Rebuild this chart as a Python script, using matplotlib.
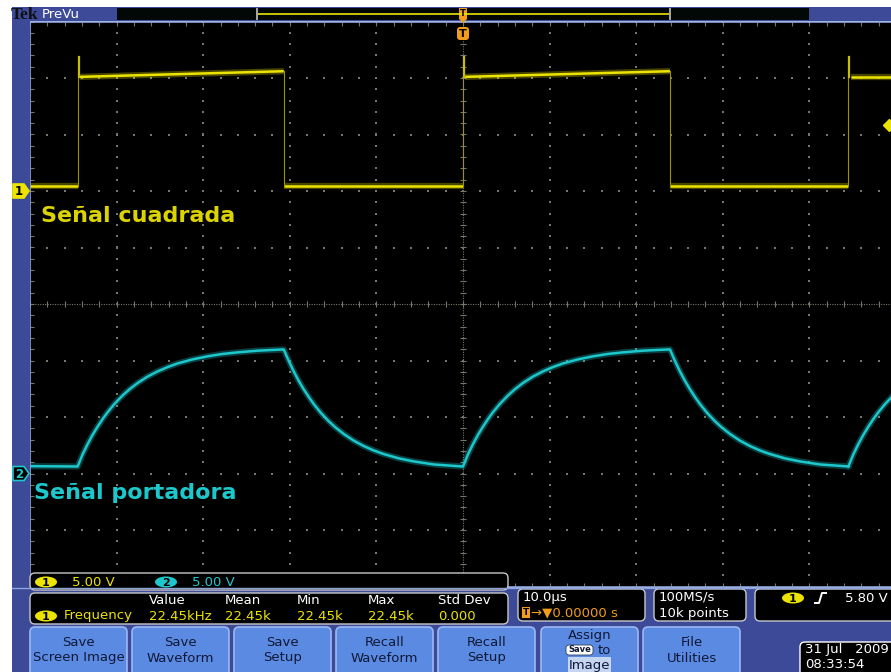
import numpy as np
import matplotlib.pyplot as plt
from matplotlib.patches import Rectangle, FancyBboxPatch, Ellipse, Polygon

W, H = 891, 672

# screen geometry (pixels)
x_center, y_center = 463.0, 304.0
px_per_div_x, px_per_div_y = 86.6, 56.5

# scope settings
us_per_div = 10.0
volts_per_div = 5.0
ch1_pos = 2.0      # divisions above centre
ch2_pos = -3.0
trig_level_v = 5.80

# channel 1: square wave, edges in us and levels in V
sq_rise_us = [-44.5, 0.0, 44.5]
sq_fall_us = [-20.7, 23.9]
sq_low_v = 0.45
sq_high_v = [10.1, 10.6]     # just after the rise / just before the fall
sq_peak_v = 11.9

# channel 2: carrier, one charge and one discharge read point by point
charge_us = [0.0, 0.58, 1.15, 1.73, 2.31, 2.89, 3.46, 4.27, 5.2, 6.0, 6.93,
             8.08, 9.24, 10.39, 11.55, 13.28, 15.01, 16.74, 18.48, 20.79, 23.79]
charge_v = [0.62, 1.7, 2.6, 3.42, 4.15, 4.82, 5.42, 6.17, 6.91, 7.46, 8.01,
            8.58, 9.04, 9.42, 9.74, 10.1, 10.37, 10.58, 10.72, 10.87, 10.98]
discharge_us = [0.0, 0.58, 1.15, 1.73, 2.31, 2.89, 3.46, 4.27, 5.2, 6.0, 6.93,
                8.08, 9.24, 10.39, 11.55, 13.28, 15.01, 17.32, 20.67]
discharge_v = [10.98, 9.96, 9.04, 8.2, 7.45, 6.77, 6.15, 5.38, 4.62, 4.06, 3.5,
               2.91, 2.43, 2.04, 1.72, 1.34, 1.07, 0.8, 0.62]
idle_v = 0.65

# readouts
meas_cols = ["Value", "Mean", "Min", "Max", "Std Dev"]
meas_vals = ["22.45kHz", "22.45k", "22.45k", "22.45k", "0.000"]
buttons = [("Save", "Screen Image"), ("Save", "Waveform"), ("Save", "Setup"),
           ("Recall", "Waveform"), ("Recall", "Setup"), None, ("File", "Utilities")]

BLUE = "#3c4a98"
EDGE = "#8ea4dc"
GRID = "#77776a"
YEL = "#ece400"
CYAN = "#1cc8cc"
ORANGE = "#f29c1c"


def div1(v):
    return ch1_pos + np.asarray(v, dtype=float) / volts_per_div


def div2(v):
    return ch2_pos + np.asarray(v, dtype=float) / volts_per_div


def ypx(d):
    return y_center - d * px_per_div_y


fig = plt.figure(figsize=(W / 100, H / 100), dpi=100, facecolor="white")

# ---- graticule ----
left_px, right_px = x_center - 5 * px_per_div_x, x_center + 5 * px_per_div_x
top_px, bot_px = y_center - 5 * px_per_div_y, y_center + 5 * px_per_div_y
ax = fig.add_axes([left_px / W, 1 - bot_px / H, (right_px - left_px) / W, (bot_px - top_px) / H],
                  zorder=1)
ax.set_facecolor("black")
ax.set_xlim(-5 * us_per_div, 5 * us_per_div)
ax.set_ylim(-5, 5)

ax.set_xticks(np.arange(-50, 50.1, 2))
ax.set_yticks(np.arange(-5, 5.01, 0.2))
ax.tick_params(direction="in", length=3, width=0.8, colors=GRID,
               top=True, bottom=True, left=True, right=True,
               labelbottom=False, labelleft=False)
for side in ["top", "left", "bottom"]:
    ax.spines[side].set_color(EDGE)
    ax.spines[side].set_linewidth(1.2)
ax.spines["right"].set_visible(False)

minor_x = np.arange(-50, 50.1, 2)
minor_y = np.arange(-5, 5.01, 0.2)
for k in range(-4, 5):
    if k == 0:
        continue
    ax.scatter(np.full(minor_y.size, k * us_per_div), minor_y, s=1.1, c=GRID, lw=0, marker="s")
    ax.scatter(minor_x, np.full(minor_x.size, k), s=1.1, c=GRID, lw=0, marker="s")
ax.plot([-50, 50], [0, 0], ls=(0, (1, 1.2)), lw=0.8, color=GRID)
ax.plot([0, 0], [-5, 5], ls=(0, (1, 1.2)), lw=0.8, color=GRID)
ax.plot(minor_x, np.zeros(minor_x.size), ls="none", marker="|", ms=5, mew=0.8, color=GRID)
ax.plot(np.zeros(minor_y.size), minor_y, ls="none", marker="_", ms=5, mew=0.8, color=GRID)

# ---- channel 1 trace ----
lows = [(-50.0, sq_rise_us[0])] + list(zip(sq_fall_us, sq_rise_us[1:]))
for a, b in lows:
    y = div1([sq_low_v, sq_low_v])
    ax.plot([a, b], y, color=YEL, lw=4.5, alpha=0.3, solid_capstyle="butt")
    ax.plot([a, b], y, color=YEL, lw=1.8, solid_capstyle="butt")
for k, r in enumerate(sq_rise_us):
    if k < len(sq_fall_us):
        end, end_v = sq_fall_us[k], sq_high_v[1]
    else:
        end, end_v = 50.0, sq_high_v[0]
    t = [r + 0.25, end]
    y = div1([sq_high_v[0], end_v])
    ax.plot(t, y, color=YEL, lw=4.5, alpha=0.3, solid_capstyle="butt")
    ax.plot(t, y, color=YEL, lw=1.8, solid_capstyle="butt")
    # edge and the short overshoot right after it
    ax.plot([r, r], div1([sq_low_v, sq_high_v[0]]), color="#9a9400", lw=0.8)
    ax.plot([r + 0.12, r + 0.12], div1([sq_high_v[0], sq_peak_v]), color="#c8c000", lw=1.6)
for k, f in enumerate(sq_fall_us):
    ax.plot([f, f], div1([sq_low_v, sq_high_v[1]]), color="#9a9400", lw=0.8)

# ---- channel 2 trace ----
t2, v2 = [-50.0], [idle_v]
for k, r in enumerate(sq_rise_us):
    stop = sq_fall_us[k] - r if k < len(sq_fall_us) else 99.0
    for t, v in zip(charge_us, charge_v):
        if t < stop:
            t2.append(r + t)
            v2.append(v)
    if k < len(sq_fall_us):
        t2 += [sq_fall_us[k] + t for t in discharge_us]
        v2 += discharge_v
ax.plot(t2, div2(v2), color=CYAN, lw=4.5, alpha=0.3)
ax.plot(t2, div2(v2), color=CYAN, lw=1.8)

# trigger level marker on the right edge
ax.plot([(W - x_center - 2) / px_per_div_x * us_per_div], [div1(trig_level_v)],
        marker="D", ms=6, color=YEL, clip_on=False)

# ---- instrument chrome (pixel coordinates) ----
ui = fig.add_axes([0, 0, 1, 1], zorder=3)
ui.set_xlim(0, W)
ui.set_ylim(H, 0)
ui.axis("off")
ui.patch.set_visible(False)


def rbox(x, y, w, h, fc, ec, r=5, lw=1.0):
    ui.add_patch(FancyBboxPatch((x, y), w, h, boxstyle=f"round,pad=0,rounding_size={r}",
                                fc=fc, ec=ec, lw=lw))


def badge(x, y, label, fc, tc="black"):
    ui.add_patch(Ellipse((x, y), 22, 11, fc=fc, ec="none"))
    ui.text(x, y + 0.5, label, color=tc, fontsize=8, fontweight="bold", ha="center", va="center")


# frame
ui.add_patch(Rectangle((12, 7), 18, H - 7, fc=BLUE, ec="none"))
ui.add_patch(Rectangle((12, 7), W - 12, 14, fc=BLUE, ec="none"))
ui.add_patch(Rectangle((12, bot_px + 1), W - 12, H - bot_px, fc=BLUE, ec="none"))
ui.plot([12, W], [bot_px + 1, bot_px + 1], color=EDGE, lw=1)

# top bar
ui.text(11, 15, "Tek", family="Liberation Serif", fontweight="bold", fontsize=12.5,
        color="#101010", va="center", ha="left")
ui.text(42, 14, "PreVu", color="white", fontsize=9.5, va="center", ha="left")
ui.add_patch(Rectangle((117, 8), 692, 12, fc="#020805", ec="none"))
ui.plot([257, 670], [14, 14], color=YEL, lw=1.2)
for xb in (257, 670):
    ui.plot([xb, xb], [9, 19], color="#a8a8a8", lw=1.4)

# trigger position markers
ui.add_patch(Polygon([(459, 8), (467, 8), (467, 19), (463, 23), (459, 19)], fc=ORANGE, ec="none"))
ui.text(463, 14, "T", color="black", fontsize=6, fontweight="bold", ha="center", va="center")
rbox(457, 27, 12, 13, ORANGE, "none", r=3)
ui.text(463, 34, "T", color="black", fontsize=8, fontweight="bold", ha="center", va="center")

# channel markers
for pos, lab, fc, ec, tc in [(ch1_pos, "1", YEL, YEL, "black"), (ch2_pos, "2", "black", CYAN, CYAN)]:
    yc = ypx(pos)
    ui.add_patch(Polygon([(13, yc - 7), (24, yc - 7), (29, yc), (24, yc + 7), (13, yc + 7)],
                         fc=fc, ec=ec, lw=1.2))
    ui.text(19, yc + 0.5, lab, color=tc, fontsize=8.5, fontweight="bold", ha="center", va="center")

# trace labels
ui.text(41, 216, "Señal cuadrada", color="#dcd400", fontsize=16, fontweight="bold",
        ha="left", va="center")
ui.text(34, 493, "Señal portadora", color=CYAN, fontsize=16, fontweight="bold",
        ha="left", va="center")

# vertical scale readout
rbox(30, 573, 478, 17, "black", "#c8c8c8")
badge(46, 582, "1", YEL)
ui.text(72, 582, f"{volts_per_div:.2f} V", color=YEL, fontsize=9.5, va="center")
badge(166, 582, "2", CYAN)
ui.text(192, 582, f"{volts_per_div:.2f} V", color=CYAN, fontsize=9.5, va="center")

# measurement readout
rbox(30, 593, 478, 31, "black", "#c8c8c8")
col_x = [149, 225, 297, 368, 438]
for cx, head, val in zip(col_x, meas_cols, meas_vals):
    ui.text(cx, 601, head, color="white", fontsize=9.5, va="center")
    ui.text(cx, 616, val, color=YEL, fontsize=9.5, va="center")
badge(46, 616, "1", YEL)
ui.text(64, 616, "Frequency", color=YEL, fontsize=9.5, va="center")

# timebase readout
rbox(518, 589, 127, 32, "black", "#c8c8c8")
ui.text(523, 597, f"{us_per_div:.1f}µs", color="white", fontsize=9.5, va="center")
ui.add_patch(Rectangle((522, 607), 8, 11, fc=ORANGE, ec="none"))
ui.text(526, 612.5, "T", color="black", fontsize=6.5, fontweight="bold", ha="center", va="center")
ui.text(531, 613, "→▼0.00000 s", color=ORANGE, fontsize=9.5, va="center")

# acquisition readout
rbox(654, 589, 92, 32, "black", "#c8c8c8")
ui.text(659, 597, "100MS/s", color="white", fontsize=9.5, va="center")
ui.text(659, 613, "10k points", color="white", fontsize=9.5, va="center")

# trigger readout
rbox(755, 589, 150, 32, "black", "#c8c8c8")
badge(793, 598, "1", YEL)
ui.plot([815, 819, 822, 826], [603, 603, 593, 593], color="white", lw=1.4)
ui.text(845, 598, f"{trig_level_v:.2f} V", color="white", fontsize=9.5, va="center")

# soft-key buttons
btn_x = [30, 132, 234, 336, 438, 541, 643]
for bx, lab in zip(btn_x, buttons):
    rbox(bx, 627, 97, 60, "#5a8ae2", "#9cb8f2", r=5, lw=1.2)
    if lab is None:
        continue
    ui.text(bx + 48.5, 643, lab[0], color="#111836", fontsize=9.5, ha="center", va="center")
    ui.text(bx + 48.5, 658, lab[1], color="#111836", fontsize=9.5, ha="center", va="center")
ui.text(589.5, 636, "Assign", color="#111836", fontsize=9.5, ha="center", va="center")
rbox(566, 645, 27, 10, "white", "#30405a", r=3, lw=0.6)
ui.text(579.5, 650, "Save", color="#111836", fontsize=6, fontweight="bold", ha="center", va="center")
ui.text(604, 650, "to", color="#111836", fontsize=9.5, ha="center", va="center")
ui.add_patch(Rectangle((568, 657), 43, 16, fc="#c6d6f2", ec="none"))
ui.text(589.5, 665, "Image", color="#111836", fontsize=9.5, ha="center", va="center")

# date / time
rbox(800, 642, 100, 40, "black", "white", r=5)
ui.text(805, 650, "31 Jul   2009", color="white", fontsize=9.5, va="center")
ui.text(805, 664, "08:33:54", color="white", fontsize=9.5, va="center")

fig.savefig("out.png", dpi=100, facecolor="white")
